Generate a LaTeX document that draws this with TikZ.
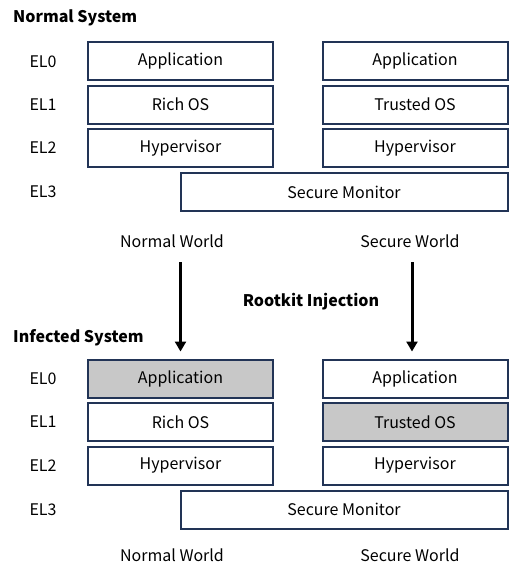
\documentclass[tikz,border=0pt]{standalone}
\usepackage{fontspec}
\setmainfont{Noto Sans CJK KR}
\usetikzlibrary{arrows.meta}

\definecolor{boxline}{RGB}{34,52,86}
\definecolor{infected}{RGB}{200,200,200}

\tikzset{
    layer/.style={draw=boxline,line width=2pt,minimum height=38pt,inner sep=0pt,font=\fontsize{16}{18}\selectfont},
    side/.style={layer,minimum width=185pt},
    monitor/.style={layer,minimum width=327pt},
    hit/.style={fill=infected},
    level/.style={font=\fontsize{16}{18}\selectfont},
    world/.style={font=\fontsize{16}{18}\selectfont},
    title/.style={anchor=west,inner sep=0pt,font=\bfseries\fontsize{16}{18}\selectfont},
    inject/.style={line width=3pt,-{Triangle[width=11pt,length=10pt]}}
}

\begin{document}
\begin{tikzpicture}[x=1pt,y=-1pt]
            \useasboundingbox (0,0) rectangle (509,566);

            % Normal System
            \node[title] (titleA) at (13,18) {Normal System};
            \node[level] (elA0) at (43,62) {EL0};
            \node[level] (elA1) at (43,105) {EL1};
            \node[level] (elA2) at (43,148) {EL2};
            \node[level] (elA3) at (43,192) {EL3};

            \node[side] (nAppA) at (180.5,61) {Application};
            \node[side] (nOsA) at (180.5,104.5) {Rich OS};
            \node[side] (nHypA) at (180.5,148) {Hypervisor};
            \node[side] (sAppA) at (415,61) {Application};
            \node[side] (sOsA) at (415,104.5) {Trusted OS};
            \node[side] (sHypA) at (415,148) {Hypervisor};
            \node[monitor] (monA) at (344,192) {Secure Monitor};

            \node[world] (nwA) at (172,241) {Normal World};
            \node[world] (swA) at (410,241) {Secure World};

            % Infected System
            \node[title] (titleB) at (13,338) {Infected System};
            \node[level] (elB0) at (43,379) {EL0};
            \node[level] (elB1) at (43,422) {EL1};
            \node[level] (elB2) at (43,465.5) {EL2};
            \node[level] (elB3) at (43,509.5) {EL3};

            \node[side,hit] (nAppB) at (180.5,378.5) {Application};
            \node[side] (nOsB) at (180.5,422) {Rich OS};
            \node[side] (nHypB) at (180.5,465.5) {Hypervisor};
            \node[side] (sAppB) at (415,378.5) {Application};
            \node[side,hit] (sOsB) at (415,422) {Trusted OS};
            \node[side] (sHypB) at (415,465.5) {Hypervisor};
            \node[monitor] (monB) at (344,509.5) {Secure Monitor};

            \node[world] (nwB) at (172,555) {Normal World};
            \node[world] (swB) at (410,555) {Secure World};

            % injection arrows
            \node[font=\bfseries\fontsize{16}{18}\selectfont] (inj) at (311,302) {Rootkit Injection};
            \coordinate (injN) at (180.5,262);
            \coordinate (injS) at (412,262);
            \draw[inject,shorten >=7pt] (injN) -- (nAppB.north);
            \draw[inject,shorten >=7pt] (injS) -- (injS |- sAppB.north);
\end{tikzpicture}
\end{document}
